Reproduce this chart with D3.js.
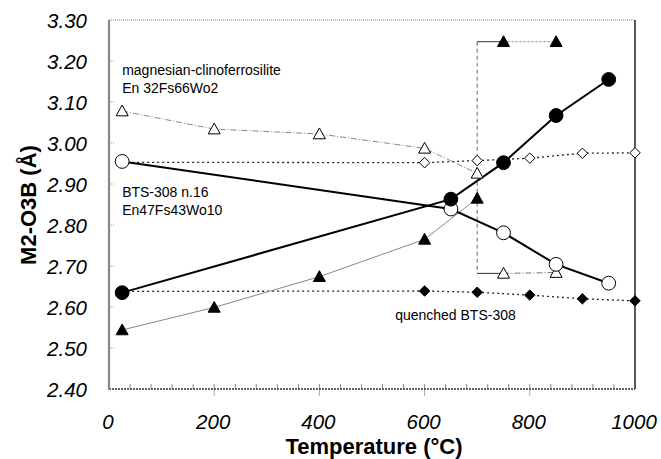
<!DOCTYPE html>
<html>
<head>
<meta charset="utf-8" />
<style>
    body { margin: 0; background: #fff; }
    text { font-family: "Liberation Sans", Arial, sans-serif; }
</style>
</head>
<body>
<svg width="661" height="459"></svg>
<script src="https://cdnjs.cloudflare.com/ajax/libs/d3/7.8.5/d3.min.js"></script>
<script>

    // temperatures (°C)
    var tempsCircle = [25, 650, 750, 850, 950];
    var tempsTri = [25, 200, 400, 600, 700];
    var tempsTriHigh = [750, 850];
    var tempsDia = [25, 600, 700, 800, 900, 1000];
    var stepTemp = 700;

    // M2-O3B distances (Å)
    var filledCircle = [2.635, 2.863, 2.952, 3.067, 3.155];
    var openCircle = [2.955, 2.839, 2.781, 2.704, 2.658];
    var openTri = [3.078, 3.034, 3.022, 2.987, 2.926];
    var filledTri = [2.544, 2.599, 2.674, 2.765, 2.865];
    var openTriHigh = [2.682, 2.684];
    var filledTriHigh = [3.247, 3.247];
    var openDia = [2.953, 2.952, 2.957, 2.963, 2.975, 2.976];
    var filledDia = [2.638, 2.639, 2.636, 2.629, 2.620, 2.615];

    var xTicks = [0, 200, 400, 600, 800, 1000];
    var yTicks = [2.4, 2.5, 2.6, 2.7, 2.8, 2.9, 3.0, 3.1, 3.2, 3.3];

    var notes = [
        {text: "magnesian-clinoferrosilite", t: 25, v: 3.166},
        {text: "En 32Fs66Wo2", t: 25, v: 3.122},
        {text: "BTS-308 n.16", t: 25, v: 2.868},
        {text: "En47Fs43Wo10", t: 25, v: 2.824},
        {text: "quenched BTS-308", t: 544, v: 2.568}
    ];

    var svg = d3.select("svg");
    var plotLeft = 109, plotRight = 635, plotTop = 20, plotBottom = 389;

    var x = d3.scaleLinear().domain([0, 1000]).range([plotLeft, plotRight]);
    var y = d3.scaleLinear().domain([2.4, 3.3]).range([plotBottom, plotTop]);

    function pts(ts, vs) {
        return ts.map(function (t, i) { return [t, vs[i]]; });
    }
    var line = d3.line().x(function (d) { return x(d[0]); }).y(function (d) { return y(d[1]); });

    // frame
    svg.append("line").attr("x1", plotLeft).attr("x2", plotRight).attr("y1", plotTop).attr("y2", plotTop)
        .attr("stroke", "#777").attr("stroke-width", 1).attr("stroke-dasharray", "1,1");
    svg.append("line").attr("x1", plotRight).attr("x2", plotRight).attr("y1", plotTop).attr("y2", plotBottom)
        .attr("stroke", "#222").attr("stroke-width", 1.5);

    // y ticks (inside)
    svg.append("g").selectAll("line").data(yTicks.slice(1, -1)).enter().append("line")
        .attr("x1", plotLeft).attr("x2", plotLeft + 5)
        .attr("y1", function (d) { return y(d); }).attr("y2", function (d) { return y(d); })
        .attr("stroke", "#999").attr("stroke-dasharray", "1,1");
    svg.append("g").selectAll("text").data(yTicks).enter().append("text")
        .attr("x", 87).attr("y", function (d) { return y(d) + 7.5; })
        .attr("text-anchor", "end").attr("font-size", 20.5).attr("font-style", "italic")
        .text(function (d) { return d.toFixed(2); });

    // x ticks
    var minor = d3.range(40, 1000, 40);
    svg.append("g").selectAll("line").data(minor).enter().append("line")
        .attr("x1", function (d) { return x(d); }).attr("x2", function (d) { return x(d); })
        .attr("y1", plotBottom).attr("y2", plotBottom - 5)
        .attr("stroke", "#888");
    svg.append("g").selectAll("line").data(xTicks.slice(1, -1)).enter().append("line")
        .attr("x1", function (d) { return x(d); }).attr("x2", function (d) { return x(d); })
        .attr("y1", plotBottom).attr("y2", plotBottom + 7)
        .attr("stroke", "#aaa");
    svg.append("g").selectAll("text").data(xTicks).enter().append("text")
        .attr("x", function (d) { return x(d) - 1; }).attr("y", 429)
        .attr("text-anchor", "middle").attr("font-size", 20.5).attr("font-style", "italic")
        .text(function (d) { return d; });

    svg.append("line").attr("x1", plotLeft).attr("x2", plotRight).attr("y1", plotBottom).attr("y2", plotBottom)
        .attr("stroke", "#333").attr("stroke-width", 1.5).attr("stroke-dasharray", "2,1");
    svg.append("line").attr("x1", plotLeft).attr("x2", plotLeft).attr("y1", plotTop).attr("y2", plotBottom + 1)
        .attr("stroke", "#888").attr("stroke-width", 2.2);

    // axis titles
    svg.append("text").attr("x", 374).attr("y", 454)
        .attr("text-anchor", "middle").attr("font-size", 22).attr("font-weight", "bold")
        .text("Temperature (°C)");
    svg.append("text").attr("transform", "translate(36,205) rotate(-90)")
        .attr("text-anchor", "middle").attr("font-size", 22).attr("font-weight", "bold")
        .text("M2-O3B (Å)");

    // lines
    var g = svg.append("g").attr("fill", "none");
    g.append("path").attr("d", line(pts(tempsDia, openDia)))
        .attr("stroke", "#222").attr("stroke-width", 1.3).attr("stroke-dasharray", "2,3");
    g.append("path").attr("d", line(pts(tempsDia, filledDia)))
        .attr("stroke", "#222").attr("stroke-width", 1.3).attr("stroke-dasharray", "2,3");
    g.append("path").attr("d", line(pts(tempsTri, openTri)))
        .attr("stroke", "#888").attr("stroke-width", 1).attr("stroke-dasharray", "6,2,1,2");
    g.append("path").attr("d", line(pts(tempsTri, filledTri)))
        .attr("stroke", "#888").attr("stroke-width", 1);

    // step at 700 °C
    g.append("path").attr("d", line([[stepTemp, filledTriHigh[0]], [stepTemp, openTriHigh[0]]]))
        .attr("stroke", "#666").attr("stroke-width", 1).attr("stroke-dasharray", "4,3");
    g.append("path").attr("d", line([[stepTemp, filledTriHigh[0]], [tempsTriHigh[0], filledTriHigh[0]]]))
        .attr("stroke", "#333").attr("stroke-width", 1);
    g.append("path").attr("d", line([[stepTemp, openTriHigh[0]], [tempsTriHigh[0], openTriHigh[0]]]))
        .attr("stroke", "#333").attr("stroke-width", 1);
    g.append("path").attr("d", line(pts(tempsTriHigh, filledTriHigh)))
        .attr("stroke", "#777").attr("stroke-width", 1).attr("stroke-dasharray", "2,2");
    g.append("path").attr("d", line(pts(tempsTriHigh, openTriHigh)))
        .attr("stroke", "#777").attr("stroke-width", 1).attr("stroke-dasharray", "6,2,1,2");

    g.append("path").attr("d", line(pts(tempsCircle, openCircle)))
        .attr("stroke", "#000").attr("stroke-width", 2);
    g.append("path").attr("d", line(pts(tempsCircle, filledCircle)))
        .attr("stroke", "#000").attr("stroke-width", 2);

    // markers
    function markers(data, type, size, fill) {
        svg.append("g").selectAll("path").data(data).enter().append("path")
            .attr("d", d3.symbol().type(type).size(size))
            .attr("transform", function (d) { return "translate(" + x(d[0]) + "," + y(d[1]) + ")"; })
            .attr("fill", fill).attr("stroke", "#000").attr("stroke-width", 1);
    }
    var diamond = {
        draw: function (ctx, size) {
            var r = Math.sqrt(size) / 2;
            ctx.moveTo(0, -r); ctx.lineTo(r, 0); ctx.lineTo(0, r); ctx.lineTo(-r, 0); ctx.closePath();
        }
    };
    var triangle = {
        draw: function (ctx, size) {
            var r = Math.sqrt(size) / 2;
            ctx.moveTo(0, -r); ctx.lineTo(r, r * 0.8); ctx.lineTo(-r, r * 0.8); ctx.closePath();
        }
    };
    markers(pts(tempsDia, openDia), diamond, 110, "#fff");
    markers(pts(tempsDia, filledDia), diamond, 110, "#000");
    markers(pts(tempsTri, openTri), triangle, 144, "#fff");
    markers(pts(tempsTriHigh, openTriHigh), triangle, 144, "#fff");
    markers(pts(tempsTri, filledTri), triangle, 144, "#000");
    markers(pts(tempsTriHigh, filledTriHigh), triangle, 144, "#000");
    markers(pts(tempsCircle, openCircle), d3.symbolCircle, 150, "#fff");
    markers(pts(tempsCircle, filledCircle), d3.symbolCircle, 150, "#000");

    // annotations
    svg.append("g").selectAll("text").data(notes).enter().append("text")
        .attr("x", function (d) { return x(d.t); }).attr("y", function (d) { return y(d.v); })
        .attr("font-size", 14)
        .text(function (d) { return d.text; });

</script>
</body>
</html>
